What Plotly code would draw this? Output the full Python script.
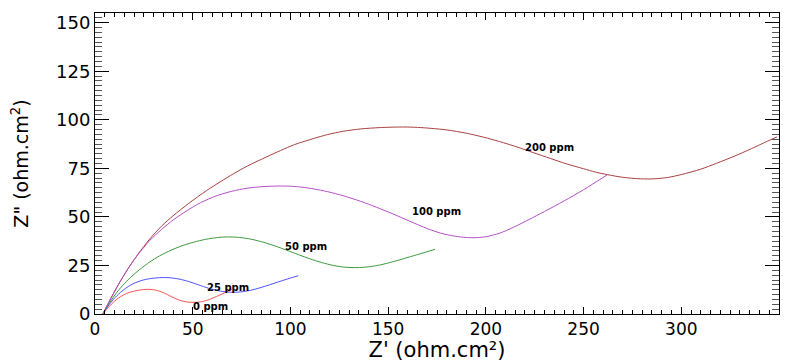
import plotly.graph_objects as go

# ---- data (Z' , Z'' in ohm.cm2) ----
x_0ppm = [4, 7, 10, 13, 17, 21, 25, 28, 31, 35, 39, 43, 47, 51, 55, 59, 63, 67, 70]
y_0ppm = [0, 3.6, 6.6, 8.9, 10.9, 12.0, 12.6, 12.7, 12.3, 11.0, 9.0, 7.2, 6.2, 6.0, 6.4, 7.7, 9.4, 11.2, 12.6]

x_25ppm = [4, 6.5, 9.5, 13, 16.5, 20, 24, 28, 33, 38, 43, 48, 53, 58, 63, 68, 72, 77, 82, 88, 94, 100, 104]
y_25ppm = [0, 3.8, 7.6, 11.1, 13.8, 15.8, 17.3, 18.2, 18.7, 18.7, 18.0, 16.7, 15.0, 13.3, 12.0, 11.3, 11.2, 11.7, 12.8, 14.6, 16.6, 18.5, 19.7]

x_50ppm = [4, 7.5, 11, 15, 19, 23, 28, 33, 39, 45, 52, 58, 64, 69, 74, 80, 86, 92, 98, 104, 110, 116, 122, 128, 134, 140, 146, 152, 158, 165, 174]
y_50ppm = [0, 5.8, 10.9, 15.6, 19.6, 23.0, 26.8, 29.9, 32.9, 35.3, 37.4, 38.7, 39.5, 39.7, 39.4, 38.5, 37.0, 35.1, 32.9, 30.6, 28.4, 26.5, 25.0, 24.1, 23.9, 24.3, 25.3, 26.8, 28.5, 30.6, 33.3]

x_100ppm = [4, 8, 12, 17, 22, 28, 34, 40, 47, 54, 62, 70, 78, 86, 94, 100, 106, 112, 119, 127, 136, 144, 153, 161, 170, 177, 184, 190, 195, 200, 207, 214, 222, 230, 240, 250, 262]
y_100ppm = [0, 7.8, 15.2, 23.5, 30.6, 37.8, 43.5, 48.4, 53.2, 57.3, 60.8, 63.2, 64.8, 65.6, 65.9, 65.8, 65.3, 64.4, 63.0, 60.9, 58.0, 55.0, 51.3, 47.8, 44.0, 41.6, 40.1, 39.4, 39.3, 39.8, 41.6, 44.6, 48.6, 52.8, 58.2, 64.0, 71.6]

x_200ppm = [4, 8, 12, 17, 22, 28, 34, 40, 48, 57, 64, 71, 78, 88, 95, 102, 112, 119, 127, 136, 146, 158, 165, 172, 180, 190, 199, 207, 216, 224, 233, 241, 250, 256, 262, 270, 279, 286, 293, 300, 310, 318, 327, 336, 345, 349]
y_200ppm = [0, 7.8, 15.2, 23.5, 30.8, 38.6, 45.2, 50.6, 57.0, 63.5, 68.0, 72.3, 76.2, 81.0, 84.2, 87.2, 90.4, 92.4, 94.1, 95.3, 96.0, 96.3, 96.1, 95.6, 94.8, 93.1, 91.0, 88.8, 86.0, 83.2, 80.1, 77.4, 74.8, 73.1, 71.8, 70.4, 69.6, 69.6, 70.3, 71.8, 74.6, 77.6, 81.2, 85.2, 89.4, 91.2]

series_names = ["0 ppm", "25 ppm", "50 ppm", "100 ppm", "200 ppm"]
series_colors = ["#ff5050", "#5050ff", "#3c9a3c", "#b450c8", "#aa4040"]

label_x = [59.3, 67.8, 107.9, 174.5, 232.8]
label_y = [4.1, 13.6, 35.0, 53.0, 85.8]

x_ticks = [0, 50, 100, 150, 200, 250, 300, 350]
y_ticks = [0, 25, 50, 75, 100, 125, 150]

xs = [x_0ppm, x_25ppm, x_50ppm, x_100ppm, x_200ppm]
ys = [y_0ppm, y_25ppm, y_50ppm, y_100ppm, y_200ppm]

fig = go.Figure()
for i in [4, 3, 2, 1, 0]:
    fig.add_trace(go.Scatter(
        x=xs[i], y=ys[i], mode="lines", name=series_names[i],
        line=dict(color=series_colors[i], width=1, shape="spline", smoothing=0.8),
    ))

for i, name in enumerate(series_names):
    fig.add_annotation(
        x=label_x[i], y=label_y[i], text=name, showarrow=False,
        font=dict(family="DejaVu Sans", size=10, color="black", weight="bold"),
        xanchor="center", yanchor="middle",
    )

axis_common = dict(
    showgrid=False, zeroline=False, showline=True, linecolor="black", linewidth=1,
    mirror="allticks", ticks="inside", tickcolor="black", tickwidth=1,
)

fig.update_xaxes(
    range=[0, 350], tickvals=x_ticks, ticklen=7,
    tickfont=dict(family="DejaVu Sans", size=17, color="black"),
    minor=dict(dtick=5, ticklen=4, ticks="inside", tickcolor="black", tickwidth=1),
    title=dict(text="Z' (ohm.cm²)", font=dict(family="DejaVu Sans", size=21, color="black"), standoff=0),
    **axis_common,
)
fig.update_yaxes(
    range=[0, 155], tickvals=y_ticks, ticklen=14,
    tickfont=dict(family="DejaVu Sans", size=18, color="black"),
    minor=dict(dtick=2.5, ticklen=7, ticks="inside", tickcolor="#555555", tickwidth=1),
    title=dict(text='Z" (ohm.cm<sup>2</sup>)', font=dict(family="DejaVu Sans", size=19, color="black"), standoff=22),
    **axis_common,
)

fig.update_layout(
    width=794, height=362,
    margin=dict(l=95, r=15, t=13, b=48, autoexpand=False),
    paper_bgcolor="white", plot_bgcolor="white",
    showlegend=False,
)

fig.write_html("out.html")
